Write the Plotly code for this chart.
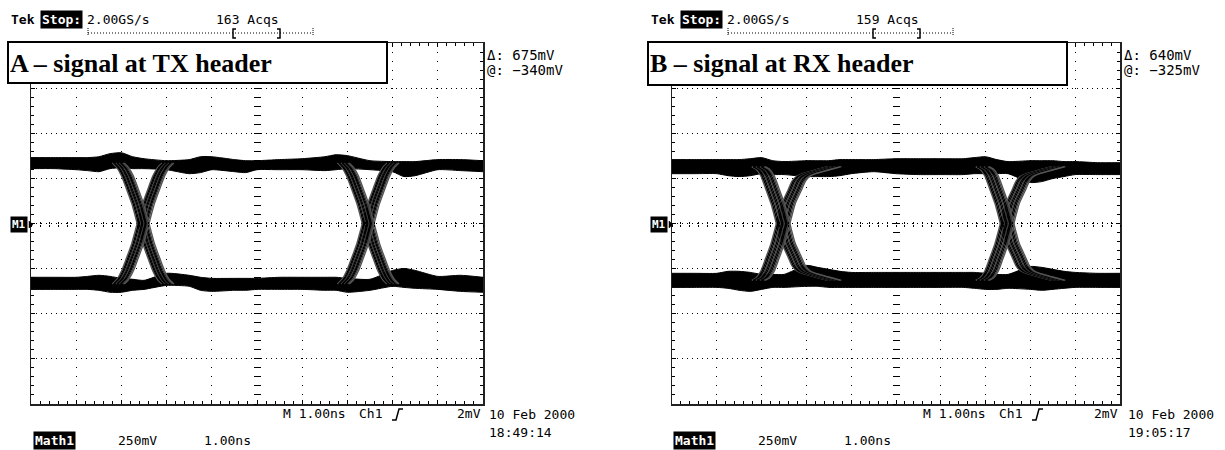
import plotly.graph_objects as go

# ---------------- data (time in ns, amplitude in mV relative to M1 reference) ----------------
# Panel A - signal at TX header
t_rail_A = [0, 0.5, 1.0, 1.25, 1.5, 1.75, 2.0, 2.25, 2.5, 3.0, 3.5, 3.75, 4.0, 4.5, 4.75,
            5.0, 5.5, 6.0, 6.5, 6.75, 7.0, 7.5, 8.0, 8.25, 8.5, 9.0, 9.5, 10.0]
hi_top_A = [365, 365, 365, 365, 370, 387, 392, 370, 359, 348, 354, 370, 370, 354, 348,
            348, 354, 359, 370, 381, 376, 348, 343, 343, 343, 354, 354, 348]
hi_bot_A = [304, 304, 298, 293, 287, 304, 309, 304, 304, 298, 276, 282, 298, 287, 282,
            298, 298, 298, 293, 298, 304, 298, 287, 260, 265, 298, 293, 287]
lo_top_A = [-298, -298, -298, -293, -287, -293, -304, -309, -315, -276, -287, -298, -304, -304, -304,
            -304, -298, -298, -298, -298, -304, -309, -260, -249, -260, -293, -287, -298]
lo_bot_A = [-365, -365, -365, -365, -370, -381, -381, -370, -365, -343, -348, -370, -376, -370, -370,
            -365, -365, -365, -370, -370, -381, -370, -348, -354, -359, -365, -376, -381]
cross_A = [2.48, 7.46]
edge_dt_A = [-0.55, -0.45, -0.35, -0.25, -0.12, 0.0, 0.12, 0.25, 0.35, 0.45, 0.55]
fall_A = [335, 310, 265, 200, 110, 0, -110, -200, -265, -310, -335]
rise_A = [-335, -310, -265, -200, -110, 0, 110, 200, 265, 310, 335]
jitter_A = [-0.13, -0.10, -0.075, -0.05, -0.025, 0.0, 0.025, 0.05, 0.075, 0.10, 0.13]

# Panel B - signal at RX header
t_rail_B = [0, 0.5, 1.0, 1.25, 1.5, 1.75, 2.0, 2.25, 2.5, 3.0, 3.25, 3.5, 3.75, 4.0, 4.5,
            5.0, 5.5, 6.0, 6.5, 6.75, 7.0, 7.25, 7.5, 8.0, 8.25, 8.5, 8.75, 9.0, 9.5, 10.0]
hi_top_B = [354, 354, 354, 354, 354, 359, 365, 348, 343, 348, 348, 348, 354, 354, 354,
            359, 359, 359, 359, 365, 370, 354, 343, 348, 348, 348, 343, 343, 337, 337]
hi_bot_B = [276, 276, 276, 265, 260, 265, 276, 271, 271, 260, 260, 260, 265, 276, 287,
            276, 271, 271, 271, 276, 276, 276, 276, 227, 232, 249, 260, 271, 271, 271]
lo_top_B = [-276, -276, -276, -265, -265, -271, -282, -282, -282, -232, -243, -254, -265, -271, -271,
            -271, -271, -271, -271, -271, -276, -282, -282, -238, -243, -254, -265, -271, -276, -276]
lo_bot_B = [-354, -354, -354, -359, -370, -376, -365, -354, -354, -348, -348, -354, -354, -354, -354,
            -354, -354, -354, -354, -359, -365, -365, -359, -365, -370, -365, -359, -354, -354, -354]
cross_B = [2.48, 7.48]
edge_dt_B = [-0.55, -0.45, -0.35, -0.25, -0.12, 0.0, 0.12, 0.25, 0.35, 0.45, 0.6, 0.85, 1.15]
fall_B = [315, 300, 265, 200, 110, 0, -110, -180, -235, -262, -278, -295, -315]
rise_B = [-315, -300, -265, -200, -110, 0, 110, 180, 235, 262, 278, 295, 315]
jitter_B = [-0.15, -0.12, -0.09, -0.06, -0.03, 0.0, 0.03, 0.06, 0.09, 0.12, 0.15]

# ---------------- figure ----------------
W, H = 1225, 450


def px(x):
    return x / W


def py(y):
    return 1 - y / H


fig = go.Figure()


def arm_color(k, n):
    if k == 0 or k == n - 1:
        return '#555555'
    return '#000000' if k % 3 else '#3c3c3c'


def add_panel(xa, ya, t, hi_top, hi_bot, lo_top, lo_bot, crossings, dt, fall, rise, jitter):
    for top, bot in [(hi_top, hi_bot), (lo_top, lo_bot)]:
        fig.add_trace(go.Scatter(x=t, y=top, mode='lines', xaxis=xa, yaxis=ya,
                                 line=dict(color='black', width=1, shape='spline', smoothing=0.6),
                                 hoverinfo='skip', showlegend=False))
        fig.add_trace(go.Scatter(x=t, y=bot, mode='lines', xaxis=xa, yaxis=ya,
                                 line=dict(color='black', width=1, shape='spline', smoothing=0.6),
                                 fill='tonexty', fillcolor='black',
                                 hoverinfo='skip', showlegend=False))
    n = len(jitter)
    for c in crossings:
        for k, j in enumerate(jitter):
            xs = [c + d + j for d in dt]
            for ys in (fall, rise):
                fig.add_trace(go.Scatter(x=xs, y=ys, mode='lines', xaxis=xa, yaxis=ya,
                                         line=dict(color=arm_color(k, n), width=1.4,
                                                   shape='spline', smoothing=0.5),
                                         hoverinfo='skip', showlegend=False))


add_panel('x', 'y', t_rail_A, hi_top_A, hi_bot_A, lo_top_A, lo_bot_A,
          cross_A, edge_dt_A, fall_A, rise_A, jitter_A)
add_panel('x2', 'y2', t_rail_B, hi_top_B, hi_bot_B, lo_top_B, lo_bot_B,
          cross_B, edge_dt_B, fall_B, rise_B, jitter_B)

# empty traces registering the centre-crosshair tick axes
for xa, ya in [('x3', 'y'), ('x4', 'y'), ('x', 'y3'), ('x', 'y4'),
               ('x5', 'y2'), ('x6', 'y2'), ('x2', 'y5'), ('x2', 'y6')]:
    fig.add_trace(go.Scatter(x=[], y=[], xaxis=xa, yaxis=ya, mode='lines',
                             hoverinfo='skip', showlegend=False))

YDOM = [py(404), py(43)]
XDOM_A = [px(31), px(483)]
XDOM_B = [px(672), px(1120)]
XRANGE = [0, 10]
YRANGE = [-1000, 1000]


def main_x(dom, anchor):
    return dict(domain=dom, range=XRANGE, anchor=anchor, dtick=1, tick0=0,
                showgrid=True, gridcolor='black', gridwidth=1, griddash='1px,8px',
                ticks='inside', ticklen=4, tickcolor='black', tickwidth=1,
                minor=dict(dtick=0.2, tick0=0, ticks='inside', ticklen=3, tickcolor='black', showgrid=False),
                showline=True, linecolor='#222', linewidth=1.5, mirror='ticks',
                showticklabels=False, zeroline=False, fixedrange=True)


def main_y(anchor):
    return dict(domain=YDOM, range=YRANGE, anchor=anchor, dtick=250, tick0=0,
                showgrid=True, gridcolor='black', gridwidth=1, griddash='1px,4px',
                ticks='inside', ticklen=4, tickcolor='black', tickwidth=1,
                minor=dict(dtick=50, tick0=0, ticks='inside', ticklen=3, tickcolor='black', showgrid=False),
                showline=True, linecolor='#222', linewidth=1.5, mirror='ticks',
                showticklabels=False, zeroline=False, fixedrange=True)


def center_x(over, ticks):
    return dict(overlaying=over, anchor='free', position=(YDOM[0] + YDOM[1]) / 2, range=XRANGE,
                side='bottom', showline=False, showgrid=False, zeroline=False,
                ticks=ticks, ticklen=2, tickcolor='black', dtick=0.2, tick0=0,
                showticklabels=False, fixedrange=True)


def center_y(over, dom, ticks):
    return dict(overlaying=over, anchor='free', position=(dom[0] + dom[1]) / 2, range=YRANGE,
                side='left', showline=False, showgrid=False, zeroline=False,
                ticks=ticks, ticklen=3, tickcolor='black', dtick=50, tick0=0,
                showticklabels=False, fixedrange=True)


FONT = 'DejaVu Sans Mono'


def txt(x, y, s, size=13, color='black', bg=None, anchor='left', family=FONT, weight='normal'):
    d = dict(x=px(x), y=py(y), xref='paper', yref='paper', text=s, showarrow=False,
             xanchor=anchor, yanchor='middle',
             font=dict(family=family, size=size, color=color, weight=weight))
    if bg:
        d.update(bgcolor=bg, borderpad=1)
    else:
        d.update(borderpad=0)
    return d


annotations = []
shapes = []


def panel_decor(dx, acqs, title, box_r, box_b, delta, at, clock, rx_dx, date_dx):
    annotations.extend([
        txt(10 + dx, 19, 'Tek', weight='bold'),
        txt(40 + dx, 19, 'Stop:', color='white', bg='black', weight='bold'),
        txt(86 + dx, 19, '2.00GS/s'),
        txt(215 + dx, 19, acqs),
        txt(486 + rx_dx, 55, 'Δ: ' + delta, size=14),
        txt(486 + rx_dx, 70, '@: ' + at, size=14),
        txt(282 + dx, 413, 'M 1.00ns'),
        txt(358 + dx, 413, 'Ch1'),
        txt(482 + rx_dx, 413, '2mV', anchor='right'),
        txt(488 + date_dx, 414, '10 Feb 2000'),
        txt(488 + date_dx, 432, clock),
        txt(33 + dx, 440, 'Math1', color='white', bg='black', weight='bold'),
        txt(117 + dx, 440, '250mV'),
        txt(203 + dx, 440, '1.00ns'),
        txt(10 + dx, 224.5, 'M1', size=11, color='white', bg='black', weight='bold'),
        txt(9 + dx, 63, title, size=26, family='Liberation Serif', weight='bold'),
    ])
    # title box
    shapes.append(dict(type='rect', xref='paper', yref='paper', x0=px(8 + dx), x1=px(box_r),
                       y0=py(box_b), y1=py(42), line=dict(color='black', width=2),
                       fillcolor='white', layer='above'))
    # record bar
    shapes.append(dict(type='line', xref='paper', yref='paper', x0=px(88 + dx), x1=px(313 + dx),
                       y0=py(33), y1=py(33), line=dict(color='black', width=1, dash='1px,2px')))
    for xe in (88, 313):
        shapes.append(dict(type='line', xref='paper', yref='paper', x0=px(xe + dx), x1=px(xe + dx),
                           y0=py(28), y1=py(36), line=dict(color='black', width=1, dash='1px,1px')))
    for xb, sgn in ((233, 1), (280, -1)):
        x0 = xb + dx
        path = 'M {a},{b} L {c},{b} L {c},{d} L {a},{d}'.format(
            a=px(x0 + 3 * sgn), b=py(29), c=px(x0), d=py(38))
        shapes.append(dict(type='path', xref='paper', yref='paper', path=path,
                           line=dict(color='black', width=1.5)))
    # M1 arrow
    shapes.append(dict(type='path', xref='paper', yref='paper',
                       path='M {a},{b} L {c},{m} L {a},{d} Z'.format(
                           a=px(29 + dx), c=px(33 + dx), b=py(221), m=py(224.5), d=py(228)),
                       fillcolor='black', line=dict(color='black', width=0.5)))
    # trigger slope symbol
    shapes.append(dict(type='path', xref='paper', yref='paper',
                       path='M {a},{y0} L {b},{y0} L {c},{y1} L {d},{y1}'.format(
                           a=px(392 + dx), b=px(396 + dx), c=px(399 + dx), d=px(403 + dx),
                           y0=py(420), y1=py(409)),
                       line=dict(color='black', width=1.5)))


panel_decor(0, '163 Acqs', 'A – signal at TX header', 387, 83, '675mV', '−340mV', '18:49:14', 0, 0)
panel_decor(640, '159 Acqs', 'B – signal at RX header', 1067, 85, '640mV', '−325mV', '19:05:17', 637, 639)

fig.update_layout(
    width=W, height=H, margin=dict(l=0, r=0, t=0, b=0),
    paper_bgcolor='white', plot_bgcolor='white', showlegend=False,
    xaxis=main_x(XDOM_A, 'y'), yaxis=main_y('x'),
    xaxis2=main_x(XDOM_B, 'y2'), yaxis2=main_y('x2'),
    xaxis3=center_x('x', 'outside'), xaxis4=center_x('x', 'inside'),
    yaxis3=center_y('y', XDOM_A, 'outside'), yaxis4=center_y('y', XDOM_A, 'inside'),
    xaxis5=center_x('x2', 'outside'), xaxis6=center_x('x2', 'inside'),
    yaxis5=center_y('y2', XDOM_B, 'outside'), yaxis6=center_y('y2', XDOM_B, 'inside'),
    annotations=annotations, shapes=shapes,
    font=dict(family=FONT, size=13, color='black'),
)

fig.write_html('out.html', include_plotlyjs=True, config={'displayModeBar': False, 'staticPlot': True})
